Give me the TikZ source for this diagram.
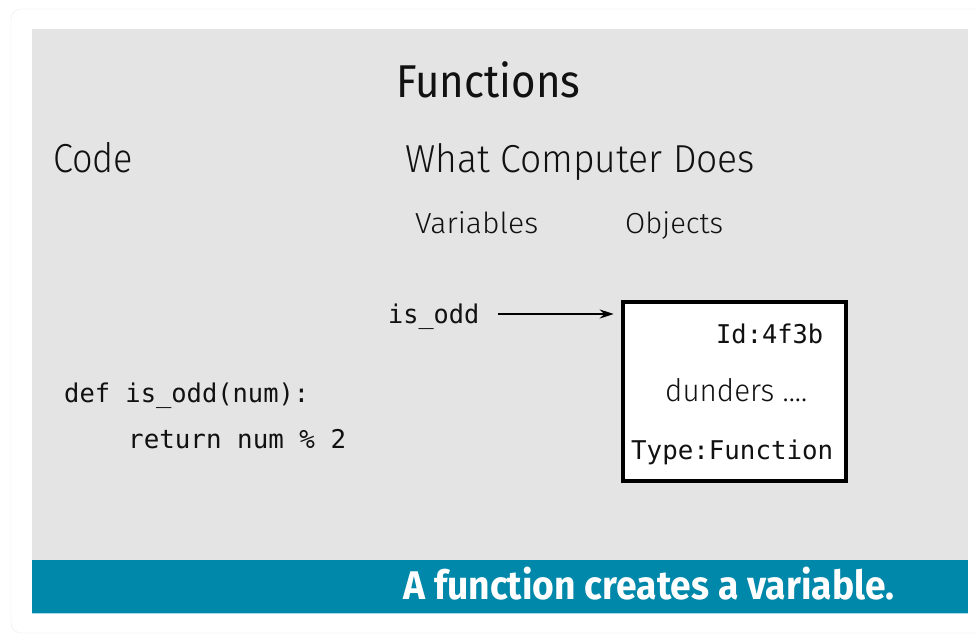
\documentclass[tikz,border=0pt]{standalone}
\usepackage{fontspec}
\usepackage{graphicx}
\usetikzlibrary{arrows.meta}
\IfFontExistsTF{Fira Sans Light}{\newfontfamily\lightsf{Fira Sans Light}}{\newfontfamily\lightsf{Fira Sans}}
\IfFontExistsTF{Fira Sans Book}{\newfontfamily\booksf{Fira Sans Book}}{\newfontfamily\booksf{Fira Sans}}
\newfontfamily\firasf{Fira Sans}
\newfontfamily\monof{DejaVu Sans Mono}
\newcommand\fitw[2]{\resizebox{#1}{\height}{#2}}
\definecolor{panelgray}{HTML}{E4E4E4}
\definecolor{barteal}{HTML}{0088AA}
\definecolor{barline}{HTML}{A8D8E6}
\definecolor{ink}{HTML}{111111}
\begin{document}
\begin{tikzpicture}[x=1pt,y=-1pt,
  txt/.style={inner sep=0pt, anchor=base west, text=ink},
  head/.style={txt, font=\lightsf},
  mono/.style={txt, font=\monof\fontsize{25.8}{30}\selectfont},
  objbox/.style={draw=black, line width=4.5pt, fill=white, minimum width=223pt, minimum height=179pt, inner sep=0pt},
  arr/.style={line width=2pt, -{Stealth[length=14pt,width=9pt]}, shorten >=7pt}]
\useasboundingbox (0,0) rectangle (976,635);
\fill[white] (0,0) rectangle (976,635);
\draw[black!8, fill=white, rounded corners=10pt] (11,9) rectangle (1010,633);
\fill[panelgray] (32,29) rectangle (968,560);
\fill[barteal] (32,560) rectangle (968,613);
\draw[barline, line width=1.2pt] (32,613.6) -- (968,613.6);
% headings
\node[txt, font=\booksf] (title) at (396,97) {\fontsize{46}{50}\selectfont\fitw{184pt}{Functions}};
\node[head] (code) at (53,172) {\fontsize{40.5}{44}\selectfont\fitw{80pt}{Code}};
\node[head] (what) at (405,172) {\fontsize{39}{44}\selectfont\fitw{350pt}{What Computer Does}};
\node[head] (vars) at (415,233) {\fontsize{29}{33}\selectfont\fitw{123pt}{Variables}};
\node[head] (objs) at (625,233) {\fontsize{29}{33}\selectfont\fitw{98pt}{Objects}};
% object box
\node[objbox] (obj) at (734.5,391.5) {};
\node[mono] (oid) at (716,343) {\fitw{107pt}{Id:4f3b}};
\node[head] (dund) at (665,401) {\fontsize{31}{35}\selectfont\fitw{142pt}{dunders ....}};
\node[mono] (otype) at (631,459) {\fitw{202pt}{Type:Function}};
% variable and arrow
\node[mono, inner xsep=19pt, text height=20pt, text depth=2pt] (isodd) at (369,323) {\fitw{91pt}{is\_odd}};
\draw[arr] (isodd.east) -- (obj.west |- isodd.east);
% code
\node[mono] (line1) at (64,402) {\fitw{245pt}{def is\_odd(num):}};
\node[mono] (line2) at (128,448) {\fitw{218pt}{return num \% 2}};
% banner
\node[txt, text=white, font=\firasf\bfseries\fontsize{40}{44}\selectfont] (banner) at (403,599) {\fitw{491pt}{A function creates a variable.}};
\end{tikzpicture}
\end{document}
